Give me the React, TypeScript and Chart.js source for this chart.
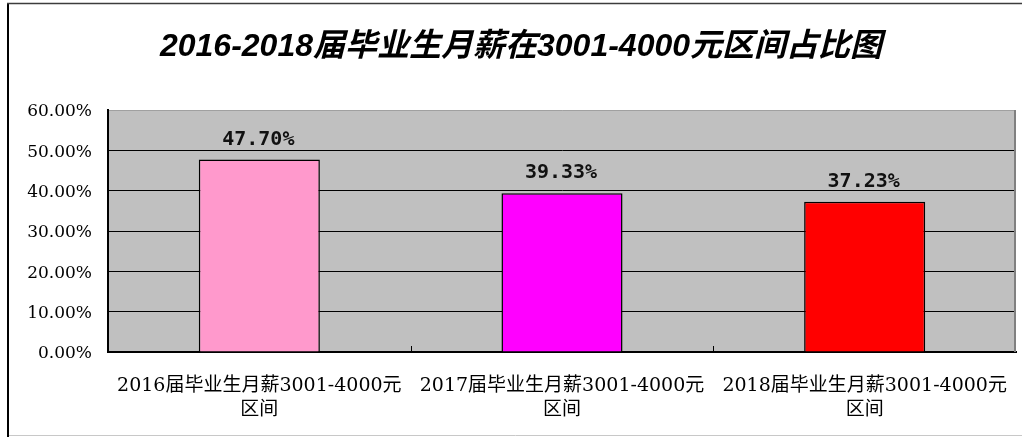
import { useEffect, useRef } from 'react';
import { Chart, registerables } from 'chart.js';

Chart.register(...registerables);

const titleText = '2016-2018届毕业生月薪在3001-4000元区间占比图';
const categories: string[][] = [
  ['2016届毕业生月薪3001-4000元', '区间'],
  ['2017届毕业生月薪3001-4000元', '区间'],
  ['2018届毕业生月薪3001-4000元', '区间'],
];
const shares = [0.477, 0.3933, 0.3723];
const barColors = ['#FF99CC', '#FF00FF', '#FF0000'];
const yMin = 0;
const yMax = 0.6;
const yStep = 0.1;

const fmtPct = (v: number) => (v * 100).toFixed(2) + '%';

const decorPlugin = {
  id: 'decor',
  beforeDraw(chart: any) {
    const { ctx, chartArea: a, width, height } = chart;
    ctx.save();
    ctx.fillStyle = '#ffffff';
    ctx.fillRect(0, 0, width, height);
    // plot background
    ctx.fillStyle = '#c0c0c0';
    ctx.fillRect(a.left, a.top, a.right - a.left, a.bottom - a.top);
    // outer frame
    ctx.strokeStyle = '#000000';
    ctx.lineWidth = 2;
    ctx.beginPath();
    ctx.moveTo(8, 3);
    ctx.lineTo(8, height);
    ctx.stroke();
    ctx.strokeStyle = '#3c3c3c';
    ctx.lineWidth = 1.5;
    ctx.beginPath();
    ctx.moveTo(7, 3.5);
    ctx.lineTo(width, 3.5);
    ctx.stroke();
    ctx.strokeStyle = '#c8c8c8';
    ctx.lineWidth = 1;
    ctx.beginPath();
    ctx.moveTo(9, height - 1.5);
    ctx.lineTo(width, height - 1.5);
    ctx.stroke();
    // title
    ctx.fillStyle = '#000000';
    ctx.font = 'italic bold 32px "Liberation Sans", "Noto Sans CJK SC", sans-serif';
    ctx.textAlign = 'center';
    ctx.textBaseline = 'middle';
    ctx.fillText(titleText, 521, 47);
    ctx.restore();
  },
  afterDatasetsDraw(chart: any) {
    const { ctx } = chart;
    const meta = chart.getDatasetMeta(0);
    ctx.save();
    ctx.fillStyle = '#111111';
    ctx.font = 'bold 20px "DejaVu Sans Mono", monospace';
    ctx.textAlign = 'center';
    ctx.textBaseline = 'alphabetic';
    meta.data.forEach((bar: any, i: number) => {
      ctx.fillText(fmtPct(shares[i]), bar.x - 1, bar.y - 15);
    });
    ctx.restore();
  },
  afterDraw(chart: any) {
    const { ctx, chartArea: a } = chart;
    const xs = chart.scales.x;
    ctx.save();
    // right border of plot area
    ctx.strokeStyle = '#808080';
    ctx.lineWidth = 2;
    ctx.beginPath();
    ctx.moveTo(a.right - 1, a.top);
    ctx.lineTo(a.right - 1, a.bottom);
    ctx.stroke();
    // category boundary ticks
    ctx.strokeStyle = '#000000';
    ctx.lineWidth = 1;
    const n = categories.length;
    for (let i = 1; i < n; i++) {
      const x = Math.round((xs.getPixelForValue(i - 1) + xs.getPixelForValue(i)) / 2) + 0.5;
      ctx.beginPath();
      ctx.moveTo(x, a.bottom);
      ctx.lineTo(x, a.bottom - 6);
      ctx.stroke();
    }
    ctx.restore();
  },
};

function shiftLabels(scale: any, dy: number) {
  if (scale._shiftPatched) return;
  const orig = scale.drawLabels.bind(scale);
  scale.drawLabels = (area: any) => {
    const ctx = scale.ctx;
    ctx.save();
    ctx.translate(0, dy);
    orig(area);
    ctx.restore();
  };
  scale._shiftPatched = true;
}

export default function App() {
  const ref = useRef<HTMLCanvasElement | null>(null);
  useEffect(() => {
    document.body.style.margin = '0';
    const canvas = ref.current;
    if (!canvas) return;
    const chart = new Chart(canvas, {
      type: 'bar',
      data: {
        labels: categories,
        datasets: [
          {
            data: shares,
            backgroundColor: barColors,
            borderColor: '#000000',
            borderWidth: 1.5,
            barPercentage: 0.4,
            categoryPercentage: 1,
          },
        ],
      },
      options: {
        animation: false,
        responsive: false,
        devicePixelRatio: 1,
        layout: { padding: { left: 0, top: 110, right: 6, bottom: 0 } },
        plugins: {
          legend: { display: false },
          title: { display: false },
          tooltip: { enabled: false },
        },
        scales: {
          x: {
            type: 'category',
            grid: { display: false, drawTicks: false },
            border: { display: true, color: '#000000', width: 2 },
            ticks: {
              autoSkip: false,
              maxRotation: 0,
              minRotation: 0,
              padding: 22,
              color: '#000000',
              font: { family: '"DejaVu Serif", "Noto Sans CJK SC", serif', size: 19, lineHeight: '24px' as any },
            },
            afterFit(scale: any) {
              scale.height = 85;
              scale.paddingLeft = 0;
              scale.paddingRight = 0;
            },
          },
          y: {
            min: yMin,
            max: yMax,
            grid: {
              drawTicks: false,
              color: (c: any) => (c.tick && c.tick.value > yMax - 1e-6 ? '#a0a0a0' : '#000000'),
              lineWidth: 1,
            },
            border: { display: true, color: '#000000', width: 2 },
            ticks: {
              stepSize: yStep,
              padding: 16,
              color: '#000000',
              font: { family: '"DejaVu Serif", serif', size: 17 },
              callback: (v: any) => fmtPct(Number(v)),
            },
            afterFit(scale: any) {
              scale.width = 108;
              scale.paddingTop = 0;
              scale.paddingBottom = 0;
              shiftLabels(scale, 2);
            },
          },
        },
      },
      plugins: [decorPlugin],
    });
    return () => chart.destroy();
  }, []);
  return (
    <canvas
      ref={ref}
      width={1022}
      height={437}
      style={{ display: 'block', width: 1022, height: 437 }}
    />
  );
}
